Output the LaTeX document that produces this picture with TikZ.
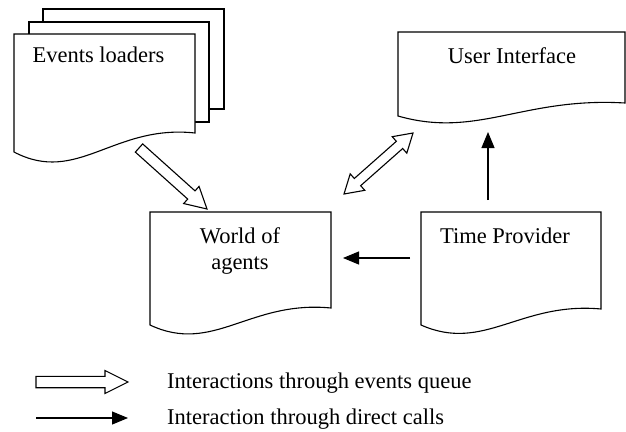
\documentclass[tikz,border=0pt]{standalone}
\usepackage{fontspec}
\setmainfont{Liberation Serif}
\usetikzlibrary{calc,arrows.meta}
\tikzset{
  docline/.style={draw=black, line width=1.1pt, fill=white, line join=miter},
  lbl/.style={font=\fontsize{22.5}{26}\selectfont, inner sep=0pt, anchor=base, align=center},
  legtext/.style={font=\fontsize{22.5}{26}\selectfont, inner sep=0pt, anchor=base west},
  hollow/.style={draw=black, line width=1.1pt, fill=white, line join=miter},
  callarrow/.style={line width=1.1pt, -{Triangle[length=16pt,width=13pt]}},
}
% L, T, W, right-bottom y, left-bottom y
\newcommand\docbox[5]{%
  \draw[docline] (#1,#5) -- (#1,#2) -- (#1+#3,#2) -- (#1+#3,#4)
    .. controls (#1+0.55*#3,#4-0.47*#5+0.47*#4) and (#1+0.35*#3,#5+1.75*#5-1.75*#4) .. (#1,#5) -- cycle;
}
% start, end, shaft half width, head half width, head length (all in pt)
\newcommand\hollowarrow[5]{%
  \coordinate (ha-h) at ($(#2)!#5pt!(#1)$);
  \draw[hollow] ($(#1)!#3pt!90:(#2)$) -- ($(ha-h)!#3pt!90:(#2)$) -- ($(ha-h)!#4pt!90:(#2)$) -- (#2)
    -- ($(ha-h)!#4pt!-90:(#2)$) -- ($(ha-h)!#3pt!-90:(#2)$) -- ($(#1)!#3pt!-90:(#2)$) -- cycle;
}
\newcommand\dblarrow[5]{%
  \coordinate (da-a) at ($(#1)!#5pt!(#2)$);
  \coordinate (da-b) at ($(#2)!#5pt!(#1)$);
  \draw[hollow] (#1) -- ($(da-a)!#4pt!90:(#2)$) -- ($(da-a)!#3pt!90:(#2)$) -- ($(da-b)!#3pt!90:(#2)$)
    -- ($(da-b)!#4pt!90:(#2)$) -- (#2) -- ($(da-b)!#4pt!-90:(#2)$) -- ($(da-b)!#3pt!-90:(#2)$)
    -- ($(da-a)!#3pt!-90:(#2)$) -- ($(da-a)!#4pt!-90:(#2)$) -- cycle;
}
\begin{document}
\begin{tikzpicture}[x=1pt,y=-1pt]
\useasboundingbox[fill=white] (0,0) rectangle (626,431);
% Events loaders stack
\draw[docline] (43,9) rectangle (224,109);
\draw[docline] (29,22) rectangle (209,122);
\docbox{14}{34}{181}{133}{152}
\node[lbl] (el) at (98.5,62) {Events loaders};
% User Interface
\docbox{398}{32}{227}{103}{116}
\node[lbl] (ui) at (512,63) {User Interface};
% World of agents
\docbox{150}{212}{181}{308}{325}
\node[lbl] (world) at (240,269) {World of\\agents};
% Time Provider
\docbox{421}{212}{180}{309}{325}
\node[lbl] (time) at (505,243) {Time Provider};
% connector end points
\coordinate (el-out) at (139,148);
\coordinate (world-in) at (207,209);
\coordinate (world-ui) at (344,194);
\coordinate (ui-world) at (413,133);
\coordinate (time-out1) at (410,258);
\coordinate (world-in2) at (343,258);
\coordinate (time-out2) at (488,200);
\coordinate (ui-in) at (488,132);
% connectors
\hollowarrow{el-out}{world-in}{5.5}{11.5}{21}
\dblarrow{world-ui}{ui-world}{4.8}{11}{18}
\draw[callarrow] (time-out1) -- (world-in2);
\draw[callarrow] (time-out2) -- (ui-in);
% legend
\coordinate (lq1) at (36,382);
\coordinate (lq2) at (128,382);
\coordinate (ld1) at (36,418);
\coordinate (ld2) at (128,418);
\hollowarrow{lq1}{lq2}{5.7}{11.5}{23}
\draw[callarrow] (ld1) -- (ld2);
\node[legtext] (leg1) at (167,388) {Interactions through events queue};
\node[legtext] (leg2) at (167,424) {Interaction through direct calls};
\end{tikzpicture}
\end{document}
